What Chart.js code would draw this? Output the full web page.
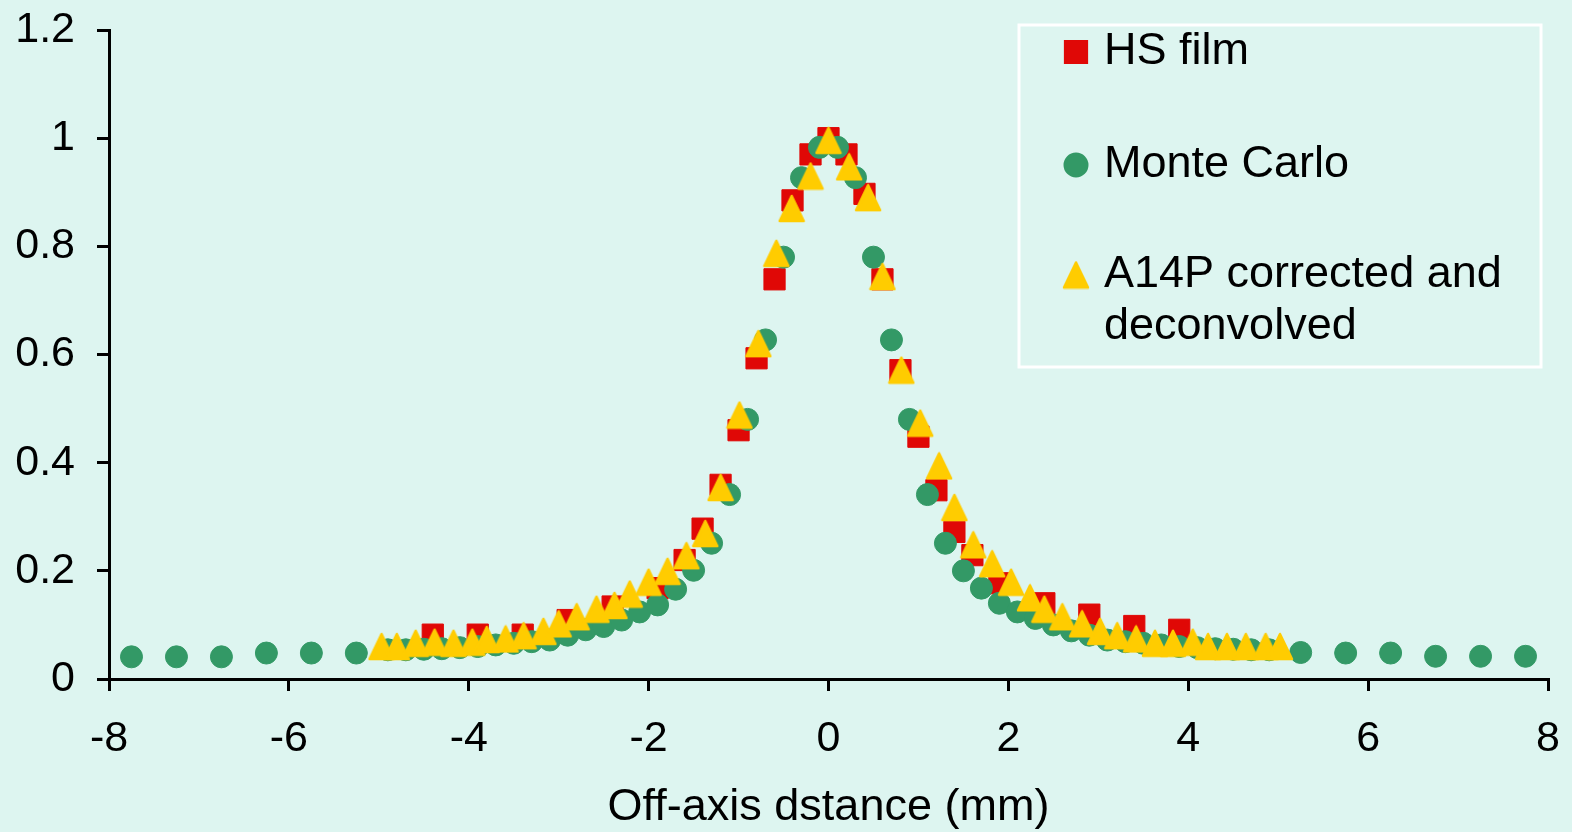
<!DOCTYPE html>
<html>
<head>
<meta charset="utf-8">
<script src="https://cdn.jsdelivr.net/npm/chart.js@4.4.1/dist/chart.umd.min.js"></script>
<style>
  html, body { margin: 0; padding: 0; background: #ddf5f0; }
  canvas { display: block; }
</style>
</head>
<body>
<canvas id="profileChart" width="1572" height="832"></canvas>
<script>
const FONT = "'Liberation Sans', Arial, sans-serif";
const BG = '#ddf5f0';

// tick labels
const xTickValues = [-8, -6, -4, -2, 0, 2, 4, 6, 8];
const yTickValues = [0, 0.2, 0.4, 0.6, 0.8, 1, 1.2];

// HS film
const hsX = [-4.4, -3.9, -3.4, -2.9, -2.4, -1.9, -1.6, -1.4, -1.2, -1.0, -0.8, -0.6, -0.4, -0.2, 0,
  0.2, 0.4, 0.6, 0.8, 1.0, 1.2, 1.4, 1.6, 1.9, 2.4, 2.9, 3.4, 3.9];
const hsY = [0.082, 0.082, 0.082, 0.109, 0.134, 0.168, 0.22, 0.278, 0.359, 0.46, 0.593, 0.739, 0.885, 0.97, 1.0,
  0.97, 0.897, 0.739, 0.571, 0.448, 0.349, 0.272, 0.229, 0.177, 0.14, 0.119, 0.098, 0.091];

// Monte Carlo
const mcX = [-7.75, -7.25, -6.75, -6.25, -5.75, -5.25, -4.9, -4.7, -4.5, -4.3, -4.1, -3.9, -3.7, -3.5, -3.3, -3.1,
  -2.9, -2.7, -2.5, -2.3, -2.1, -1.9, -1.7, -1.5, -1.3, -1.1, -0.9, -0.7, -0.5, -0.3, -0.1,
  0.1, 0.3, 0.5, 0.7, 0.9, 1.1, 1.3, 1.5, 1.7, 1.9, 2.1, 2.3, 2.5, 2.7, 2.9,
  3.1, 3.3, 3.5, 3.7, 3.9, 4.1, 4.3, 4.5, 4.7, 4.9, 5.25, 5.75, 6.25, 6.75, 7.25, 7.75];
const mcY = [0.041, 0.041, 0.041, 0.048, 0.048, 0.048, 0.054, 0.054, 0.055, 0.056, 0.058, 0.06, 0.063, 0.066, 0.069, 0.072,
  0.081, 0.091, 0.097, 0.109, 0.124, 0.137, 0.166, 0.201, 0.251, 0.341, 0.48, 0.627, 0.78, 0.927, 0.983,
  0.983, 0.927, 0.78, 0.627, 0.48, 0.341, 0.251, 0.2, 0.168, 0.14, 0.124, 0.112, 0.1, 0.089, 0.081,
  0.072, 0.069, 0.066, 0.063, 0.06, 0.058, 0.056, 0.055, 0.054, 0.054, 0.049, 0.048, 0.048, 0.042, 0.042, 0.042];

// A14P corrected and deconvolved
const a14X = [-4.97, -4.8, -4.59, -4.38, -4.17, -3.96, -3.8, -3.59, -3.39, -3.17, -3.0, -2.8, -2.58, -2.38, -2.21, -2.0,
  -1.79, -1.58, -1.37, -1.2, -0.99, -0.78, -0.58, -0.41, -0.2, 0, 0.23, 0.44, 0.6, 0.81, 1.02, 1.23, 1.4, 1.61,
  1.82, 2.03, 2.24, 2.4, 2.6, 2.82, 3.02, 3.21, 3.42, 3.63, 3.83, 4.05, 4.22, 4.43, 4.64, 4.86, 5.02];
const a14Y = [0.06, 0.06, 0.066, 0.068, 0.066, 0.068, 0.073, 0.074, 0.08, 0.088, 0.102, 0.115, 0.129, 0.136, 0.157, 0.179,
  0.199, 0.228, 0.269, 0.354, 0.488, 0.62, 0.787, 0.87, 0.93, 0.996, 0.947, 0.89, 0.744, 0.571, 0.473, 0.394, 0.317, 0.248,
  0.213, 0.179, 0.15, 0.129, 0.115, 0.102, 0.088, 0.08, 0.074, 0.066, 0.066, 0.068, 0.06, 0.06, 0.06, 0.06, 0.06];

const legendLines = [['HS film'], ['Monte Carlo'], ['A14P corrected and', 'deconvolved']];

const toPoints = (xs, ys) => xs.map((x, i) => ({ x, y: ys[i] }));

// excel-ish triangle: a bit taller than equilateral, rounded corners
function triangleMarker(w, h, color) {
  const c = document.createElement('canvas');
  c.width = w + 4; c.height = h + 4;
  const g = c.getContext('2d');
  g.fillStyle = color; g.strokeStyle = color;
  g.lineWidth = 2.5; g.lineJoin = 'round';
  g.beginPath();
  g.moveTo(c.width / 2, 2);
  g.lineTo(c.width - 2, c.height - 2);
  g.lineTo(2, c.height - 2);
  g.closePath();
  g.fill(); g.stroke();
  return c;
}

const RED = '#e00806', GREEN = '#339966', YELLOW = '#ffcc00';
const triImg = triangleMarker(24, 25, YELLOW);

const legendBox = {
  id: 'legendBox',
  afterDraw(chart) {
    const ctx = chart.ctx;
    ctx.save();
    ctx.fillStyle = BG;
    ctx.fillRect(1019, 25, 522, 342);
    ctx.strokeStyle = '#ffffff';
    ctx.lineWidth = 3;
    ctx.strokeRect(1019, 25, 522, 342);
    const rowsY = [52, 165, 275];
    ctx.font = `45px ${FONT}`;
    ctx.textBaseline = 'middle';
    chart.data.datasets.forEach((ds, i) => {
      ctx.fillStyle = ds.backgroundColor;
      ctx.strokeStyle = ds.borderColor;
      Chart.helpers.drawPoint(ctx, {
        pointStyle: ds.pointStyle, radius: ds.pointRadius, rotation: 0, borderWidth: ds.borderWidth
      }, 1076, rowsY[i]);
      ctx.fillStyle = '#000';
      legendLines[i].forEach((t, k) => ctx.fillText(t, 1104, rowsY[i] + k * 52));
    });
    ctx.restore();
  }
};

const axisBase = {
  type: 'linear',
  grid: { drawOnChartArea: false, drawTicks: true, tickLength: 12, color: '#000', lineWidth: 3 },
  border: { display: true, color: '#000', width: 3 },
};

new Chart(document.getElementById('profileChart'), {
  type: 'scatter',
  data: {
    datasets: [
      { label: 'HS film', data: toPoints(hsX, hsY), pointStyle: 'rect', pointRadius: 15,
        backgroundColor: RED, borderColor: RED, borderWidth: 1, order: 3, clip: false },
      { label: 'Monte Carlo', data: toPoints(mcX, mcY), pointStyle: 'circle', pointRadius: 11,
        backgroundColor: GREEN, borderColor: GREEN, borderWidth: 1, order: 2, clip: false },
      { label: 'A14P corrected and deconvolved', data: toPoints(a14X, a14Y), pointStyle: triImg, pointRadius: 14,
        backgroundColor: YELLOW, borderColor: YELLOW, borderWidth: 0, order: 1, clip: false }
    ]
  },
  options: {
    responsive: false,
    animation: false,
    events: [],
    layout: { padding: { top: 30, right: 24, left: 0, bottom: 0 } },
    plugins: { legend: { display: false }, tooltip: { enabled: false } },
    scales: {
      x: {
        ...axisBase,
        min: -8, max: 8,
        afterBuildTicks: s => { s.ticks = xTickValues.map(v => ({ value: v })); },
        afterFit: s => { s.height = 153; s.paddingLeft = 0; s.paddingRight = 0; },
        ticks: { font: { size: 43, family: FONT }, color: '#000', padding: 22, maxRotation: 0, autoSkip: false,
          callback: v => String(v) },
        title: { display: true, text: 'Off-axis dstance (mm)', color: '#000',
          font: { size: 45, family: FONT, lineHeight: 1.1 }, padding: 0 }
      },
      y: {
        ...axisBase,
        min: 0, max: 1.2,
        afterBuildTicks: s => { s.ticks = yTickValues.map(v => ({ value: v })); },
        afterFit: s => { s.width = 109; s.paddingTop = 0; s.paddingBottom = 0; },
        ticks: { font: { size: 43, family: FONT }, color: '#000', padding: 22, autoSkip: false,
          callback: v => String(v) }
      }
    }
  },
  plugins: [legendBox]
});
</script>
</body>
</html>
